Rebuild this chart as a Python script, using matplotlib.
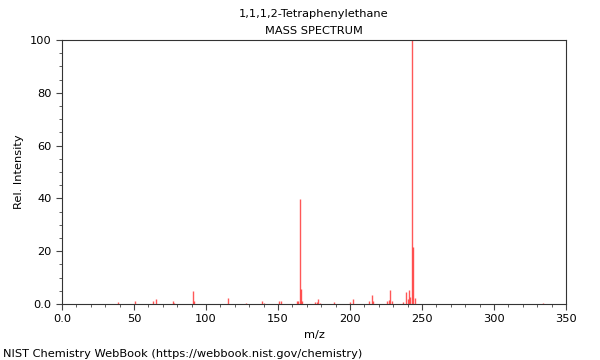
import matplotlib
matplotlib.use("Agg")
import matplotlib.pyplot as plt
from matplotlib.ticker import MultipleLocator, FuncFormatter

# Peak list (m/z, relative intensity)
mz = [39, 51, 63, 65, 77, 78, 91, 92, 115, 128, 139, 140, 151, 152,
      163, 164, 165, 166, 167, 176, 177, 178, 179, 189, 200, 202,
      213, 215, 216, 226, 227, 228, 229, 237, 239, 240, 241, 242,
      243, 244, 245, 334]
intensity = [0.9, 1.0, 1.0, 1.9, 1.0, 0.5, 4.9, 1.0, 2.4, 0.5, 1.0, 0.5, 1.0, 1.3,
             1.3, 1.3, 39.8, 5.5, 1.0, 0.8, 0.6, 1.9, 0.5, 0.8, 0.8, 2.0,
             1.2, 3.4, 1.0, 1.0, 1.5, 5.3, 1.0, 0.8, 4.7, 2.0, 5.3, 2.5,
             100, 21.7, 2.4, 0.3]

title = "1,1,1,2-Tetraphenylethane"
subtitle = "MASS SPECTRUM"
credit = "NIST Chemistry WebBook (https://webbook.nist.gov/chemistry)"

fig = plt.figure(figsize=(6, 3.6), dpi=100)
ax = fig.add_axes([0.1033, 0.1556, 0.84, 0.7333])

ax.vlines(mz, 0, intensity, color="#ff2020", linewidth=1.0, alpha=0.75)

ax.set_xlim(0, 350)
ax.set_ylim(0, 100)
ax.xaxis.set_major_locator(MultipleLocator(50))
ax.xaxis.set_minor_locator(MultipleLocator(10))
ax.yaxis.set_major_locator(MultipleLocator(20))
ax.yaxis.set_minor_locator(MultipleLocator(5))
fmt = FuncFormatter(lambda v, p: "0.0" if v == 0 else "%d" % v)
ax.xaxis.set_major_formatter(fmt)
ax.yaxis.set_major_formatter(fmt)
ax.tick_params(labelsize=8.2, length=4, width=0.8, color="#444444")
ax.tick_params(which="minor", length=2.5, width=0.6, color="#444444")
for s in ax.spines.values():
    s.set_linewidth(0.8)
    s.set_color("#333333")

ax.set_xlabel("m/z", fontsize=8.2)
ax.set_ylabel("Rel. Intensity", fontsize=8.2)

fig.text(0.523, 0.962, title, ha="center", va="center", fontsize=8.2)
fig.text(0.523, 0.915, subtitle, ha="center", va="center", fontsize=8.2)
fig.text(0.005, 0.018, credit, ha="left", va="center", fontsize=8.2)

fig.savefig("out.png", dpi=100)
